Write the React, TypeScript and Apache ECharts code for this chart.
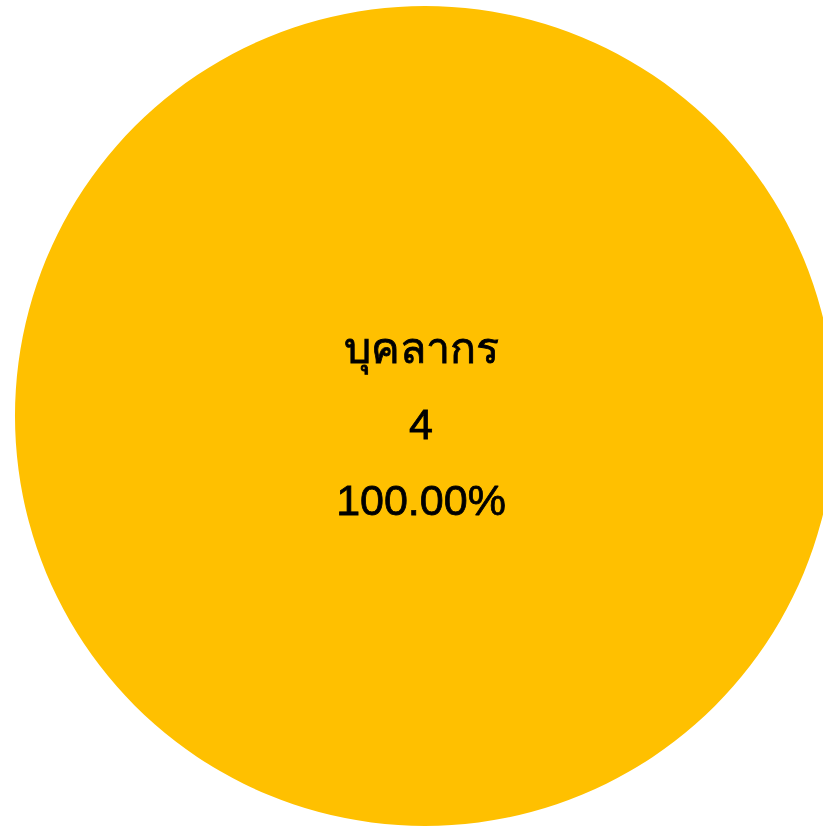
import React, { useEffect, useRef } from "react";
import * as echarts from "echarts";

const categories: string[] = ["บุคลากร"];
const values: number[] = [4];
const colors: string[] = ["#FFC000"];

export default function App() {
  const ref = useRef<HTMLDivElement>(null);
  useEffect(() => {
    if (!ref.current) return;
    const chart = echarts.init(ref.current, undefined, { renderer: "svg" });
    const total = values.reduce((a, b) => a + b, 0);
    const font = "Liberation Sans, Noto Sans, sans-serif";
    const txt = {
      fontSize: 43,
      lineHeight: 76,
      color: "#000",
      fontFamily: font,
      textBorderColor: "#000",
      textBorderWidth: 0.8,
    };
    chart.setOption({
      animation: false,
      series: [
        {
          type: "pie",
          center: [425, 416],
          radius: [0, 410],
          silent: true,
          data: categories.map((name, i) => ({
            name,
            value: values[i],
            itemStyle: { color: colors[i] },
          })),
          label: {
            show: true,
            position: "center",
            padding: [16, 8, 0, 0],
            formatter: (p: any) =>
              `{a|${p.name}}\n{b|${p.value}}\n{c|${((p.value / total) * 100).toFixed(2)}%}`,
            rich: { a: txt, b: txt, c: txt },
          },
          labelLine: { show: false },
        },
      ],
    });
    return () => chart.dispose();
  }, []);
  return (
    <div
      ref={ref}
      style={{ position: "fixed", left: 0, top: 0, width: 823, height: 826 }}
    />
  );
}
